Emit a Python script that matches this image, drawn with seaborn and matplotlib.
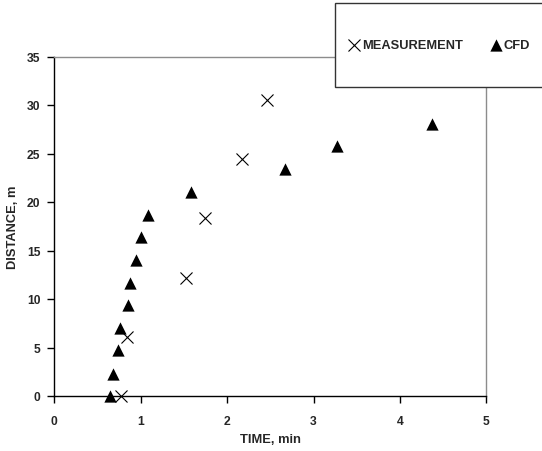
import matplotlib
matplotlib.use("Agg")
import matplotlib.pyplot as plt
import seaborn as sns
import pandas as pd
from matplotlib.patches import Rectangle

# values
meas_time = [0.77, 0.84, 1.52, 1.74, 2.17, 2.46]
meas_dist = [0.0, 6.1, 12.2, 18.3, 24.4, 30.5]

cfd_time = [0.64, 0.68, 0.74, 0.76, 0.85, 0.88, 0.95, 1.00, 1.08, 1.58, 2.67, 3.27, 4.37]
cfd_dist = [0.0, 2.3, 4.7, 7.0, 9.35, 11.7, 14.0, 16.4, 18.7, 21.0, 23.4, 25.8, 28.05]

x_ticks = [0, 1, 2, 3, 4, 5]
y_ticks = [0, 5, 10, 15, 20, 25, 30, 35]

meas = pd.DataFrame({'Time': meas_time, 'Distance': meas_dist})
cfd = pd.DataFrame({'Time': cfd_time, 'Distance': cfd_dist})

sns.set_style("ticks")
plt.rcParams['font.family'] = ['Liberation Sans', 'DejaVu Sans']
plt.rcParams['font.weight'] = 'bold'

W, H = 542, 452
fig = plt.figure(figsize=(W / 100, H / 100), dpi=100)
ax = fig.add_axes([54.3 / W, 1 - 397 / H, (486.3 - 54.3) / W, (397 - 57.5) / H])

sns.scatterplot(x='Time', y='Distance', data=meas, marker='x', color='black',
                s=75, linewidth=0.8, label='MEASUREMENT', ax=ax, zorder=3, clip_on=False)
sns.scatterplot(x='Time', y='Distance', data=cfd, marker='^', color='black',
                s=78, linewidth=0, label='CFD', ax=ax, zorder=3, clip_on=False)

ax.set_xlim(0, 5)
ax.set_ylim(0, 35)
ax.set_xticks(x_ticks)
ax.set_yticks(y_ticks)
ax.tick_params(axis='both', direction='out', length=5, width=1, color='black',
               labelsize=8.7)
ax.tick_params(axis='x', pad=9)
ax.tick_params(axis='y', pad=5)
for lab in ax.get_xticklabels() + ax.get_yticklabels():
    lab.set_fontweight('bold')

ax.set_xlabel('TIME, min', fontsize=9.3, fontweight='bold')
ax.set_ylabel('DISTANCE, m', fontsize=9.3, fontweight='bold')
ax.xaxis.set_label_coords(0.5, -(434 - 397) / (397 - 57.5), transform=ax.transAxes)
ax.yaxis.set_label_coords(-(54.3 - 19) / (486.3 - 54.3), 0.5, transform=ax.transAxes)

for side in ['left', 'bottom']:
    ax.spines[side].set_color('black')
    ax.spines[side].set_linewidth(1)
for side in ['top', 'right']:
    ax.spines[side].set_visible(True)
    ax.spines[side].set_color('#8c8c8c')
    ax.spines[side].set_linewidth(1)

# legend box like the excel one, running off the right edge
box = Rectangle((335 / W, 1 - 87.5 / H), (W - 335 + 5) / W, (87.5 - 4) / H,
                transform=fig.transFigure, facecolor='white', edgecolor='#333333',
                linewidth=1, zorder=5, clip_on=False)
fig.patches.append(box)

handles, labels = ax.get_legend_handles_labels()
ax.get_legend().remove()
leg = fig.legend(handles, labels, loc='center left', bbox_to_anchor=(347.5 / W, 1 - 46 / H),
                 ncol=2, frameon=False, borderpad=0, borderaxespad=0,
                 handletextpad=0.12, columnspacing=2.05, handlelength=1.0,
                 prop={'weight': 'bold', 'size': 9.3})
leg.set_zorder(6)

fig.savefig('out.png', dpi=100)
